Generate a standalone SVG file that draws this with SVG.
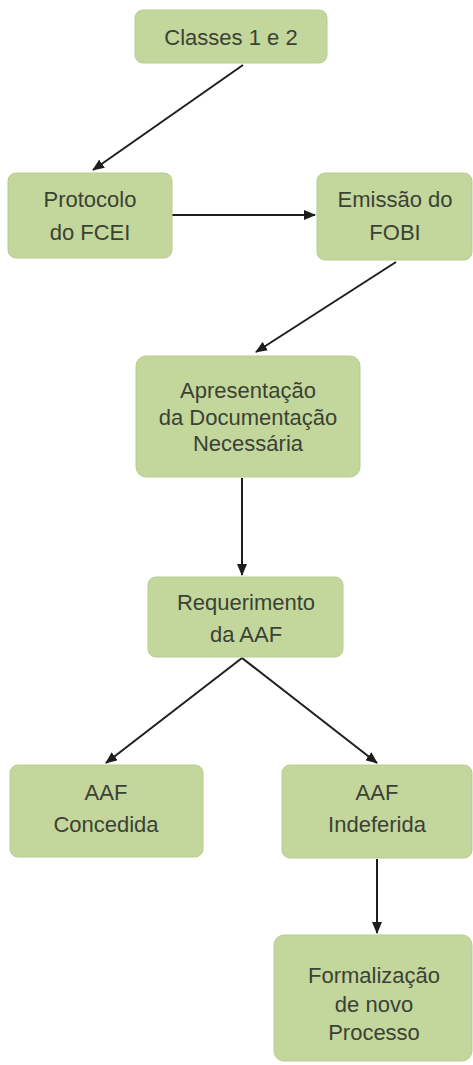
<svg xmlns="http://www.w3.org/2000/svg" width="473" height="1065" viewBox="0 0 473 1065">
<style>
.box{fill:#c3d69b;stroke:#b9cd90;stroke-width:1}
.t{font-family:"Liberation Sans",Arial,sans-serif;font-size:22px;fill:#3b4235;text-anchor:middle}
.c{stroke:#1e1e1e;stroke-width:2;fill:none;marker-end:url(#ah)}
</style>
<defs>
<marker id="ah" markerUnits="userSpaceOnUse" markerWidth="12" markerHeight="10" refX="11" refY="5" orient="auto">
<path d="M0,0 L12,5 L0,10 z" fill="#1e1e1e"/>
</marker>
</defs>
<rect width="473" height="1065" fill="#ffffff"/>
<g id="connectors">
<line class="c" x1="243" y1="65" x2="93" y2="170"/>
<line class="c" x1="172" y1="215" x2="315" y2="215"/>
<line class="c" x1="396" y1="262" x2="256" y2="352"/>
<line class="c" x1="242" y1="478" x2="242" y2="575"/>
<line class="c" x1="242" y1="658" x2="106" y2="763"/>
<line class="c" x1="242" y1="658" x2="377" y2="763"/>
<line class="c" x1="377" y1="859" x2="377" y2="933"/>
</g>
<g id="n1">
<rect class="box" x="135" y="10" width="192" height="53" rx="8"/>
<text class="t" x="231" y="45">Classes 1 e 2</text>
</g>
<g id="n2">
<rect class="box" x="8" y="173" width="164" height="85" rx="8"/>
<text class="t" x="90" y="207">Protocolo</text>
<text class="t" x="90" y="240">do FCEI</text>
</g>
<g id="n3">
<rect class="box" x="317" y="173" width="155" height="87" rx="8"/>
<text class="t" x="395" y="207">Emissão do</text>
<text class="t" x="395" y="240">FOBI</text>
</g>
<g id="n4">
<rect class="box" x="136" y="356" width="224" height="121" rx="10"/>
<text class="t" x="248" y="398">Apresentação</text>
<text class="t" x="248" y="425">da Documentação</text>
<text class="t" x="248" y="451">Necessária</text>
</g>
<g id="n5">
<rect class="box" x="148" y="577" width="195" height="80" rx="8"/>
<text class="t" x="246" y="610">Requerimento</text>
<text class="t" x="246" y="642">da AAF</text>
</g>
<g id="n6">
<rect class="box" x="10" y="765" width="193" height="92" rx="8"/>
<text class="t" x="106" y="800">AAF</text>
<text class="t" x="106" y="832">Concedida</text>
</g>
<g id="n7">
<rect class="box" x="282" y="765" width="190" height="93" rx="8"/>
<text class="t" x="377" y="800">AAF</text>
<text class="t" x="377" y="832">Indeferida</text>
</g>
<g id="n8">
<rect class="box" x="274" y="935" width="198" height="126" rx="10"/>
<text class="t" x="374" y="983">Formalização</text>
<text class="t" x="374" y="1012">de novo</text>
<text class="t" x="374" y="1040">Processo</text>
</g>
</svg>
